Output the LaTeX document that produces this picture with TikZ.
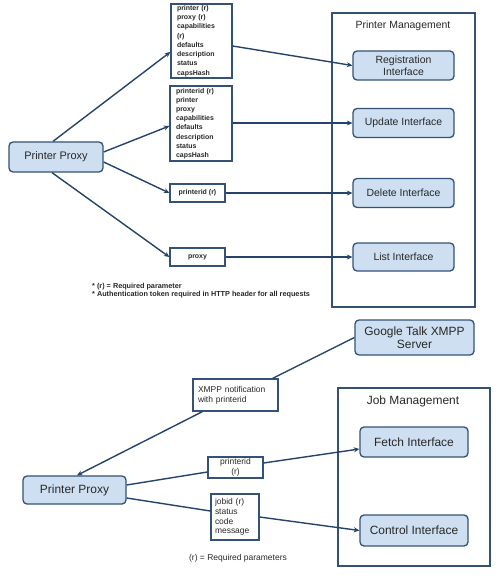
\documentclass[tikz,border=0pt]{standalone}
\usepackage{fontspec}
\setmainfont{Liberation Sans}
\usetikzlibrary{arrows.meta}
\definecolor{ln}{RGB}{36,68,108}
\definecolor{bx}{RGB}{205,223,241}
\definecolor{bd}{RGB}{52,82,118}
\definecolor{tx}{RGB}{40,40,40}
\begin{document}
\begin{tikzpicture}[x=1bp,y=-1bp,
  iface/.style={draw=bd, fill=bx, rounded corners=4bp, line width=1.3bp, inner sep=0pt, align=center, text=tx},
  pbox/.style={draw=bd, fill=white, line width=1.3bp, inner sep=0pt, text=tx},
  cont/.style={draw=bd, line width=1.1bp, inner sep=0pt},
  conn/.style={draw=ln, line width=1.4bp},
  arr/.style={conn, -{Stealth[length=5.5bp,width=5bp]}},
  topsmall/.style={font=\fontsize{7}{9.25}\selectfont\bfseries},
  botsmall/.style={font=\fontsize{8.5}{10.3}\selectfont},
  topbig/.style={font=\fontsize{10.5}{11.7}\selectfont},
  botbig/.style={font=\fontsize{12}{13.3}\selectfont},
  ttl/.style={text=tx, inner sep=0pt},
]
\useasboundingbox[fill=white] (0,0) rectangle (500,578);

% ---------- top half ----------
\node[cont, minimum width=143bp, minimum height=294bp] (pm) at (403.5,160) {};
\node[ttl, topbig] (pmt) at (403,26) {Printer Management};

\node[iface, topbig, minimum width=101bp, minimum height=29bp] (reg) at (403.5,65.5) {Registration\\Interface};
\node[iface, topbig, minimum width=101bp, minimum height=29bp] (upd) at (403.5,123) {Update Interface};
\node[iface, topbig, minimum width=101bp, minimum height=29bp] (del) at (403.5,193) {Delete Interface};
\node[iface, topbig, minimum width=101bp, minimum height=28bp] (lst) at (403.5,257) {List Interface};

\node[iface, font=\fontsize{11}{12}\selectfont, minimum width=94bp, minimum height=30bp] (pp1) at (56,157) {Printer Proxy};

\node[pbox, topsmall, minimum width=61bp, minimum height=74bp, text width=49bp, align=left] (b1) at (201.5,41)
  {printer (r)\\proxy (r)\\capabilities\\(r)\\defaults\\description\\status\\capsHash};
\node[pbox, topsmall, minimum width=62bp, minimum height=75bp, text width=50bp, align=left] (b2) at (201,123.5)
  {printerid (r)\\printer\\proxy\\capabilities\\defaults\\description\\status\\capsHash};
\node[pbox, topsmall, minimum width=55bp, minimum height=18bp] (b3) at (197.5,193) {printerid (r)};
\node[pbox, topsmall, minimum width=55bp, minimum height=18bp] (b4) at (197.5,257) {proxy};

\node[ttl, font=\fontsize{7.3}{8}\selectfont\bfseries, anchor=west, align=left] (fn) at (92,291)
  {* (r) = Required parameter\\* Authentication token required in HTTP header for all requests};

\draw[arr] ([xshift=-3bp]pp1.north) -- ([yshift=-11bp]b1.west);
\draw[arr] ([yshift=5bp]pp1.east) -- ([yshift=-2.5bp]b2.west);
\draw[arr] ([yshift=-5bp]pp1.east) -- (b3.west);
\draw[arr] ([xshift=-4bp]pp1.south) -- (b4.west);

\draw[arr] ([yshift=-5bp]b1.east) -- (reg.west);
\draw[arr] (b2.east |- upd.west) -- (upd.west);
\draw[arr] (b3.east) -- (del.west);
\draw[arr] (b4.east) -- (lst.west);

% ---------- bottom half ----------
\node[iface, botbig, minimum width=119bp, minimum height=35bp] (gt) at (414.5,337.5) {Google Talk XMPP\\Server};

\node[cont, minimum width=152bp, minimum height=178bp] (jm) at (414,477) {};
\node[ttl, botbig] (jmt) at (413,401) {Job Management};
\node[iface, botbig, minimum width=108bp, minimum height=30bp] (fetch) at (414,442) {Fetch Interface};
\node[iface, botbig, minimum width=108bp, minimum height=31bp] (ctrl) at (414,530.5) {Control Interface};

\node[iface, botbig, minimum width=103bp, minimum height=28bp] (pp2) at (74.5,490) {Printer Proxy};

\node[pbox, botsmall, minimum width=85bp, minimum height=32bp, text width=75bp, align=left] (xm) at (235.5,395)
  {XMPP notification\\with printerid};
\node[pbox, botsmall, minimum width=55bp, minimum height=21bp, align=center] (pr) at (235.5,467.5)
  {printerid\\(r)};
\node[pbox, botsmall, font=\fontsize{8.5}{9.8}\selectfont, minimum width=48bp, minimum height=46bp, text width=40bp, align=left] (jb) at (235,517)
  {jobid (r)\\status\\code\\message};

\node[ttl, botsmall] (fn2) at (238,558) {(r) = Required parameters};

\draw[conn] (gt.west) -- ([xshift=-6bp]xm.north east);
\draw[arr] ([xshift=10bp]xm.south west) -- ([xshift=2.5bp]pp2.north);
\draw[conn] ([yshift=5bp]pp2.east) -- ([yshift=-4.5bp]pr.west);
\draw[arr] ([yshift=4.5bp]pr.east) -- ([yshift=-7bp]fetch.west);
\draw[conn] ([yshift=-8bp]pp2.east) -- ([yshift=6bp]jb.west);
\draw[arr] (jb.east) -- (ctrl.west);
\end{tikzpicture}
\end{document}
